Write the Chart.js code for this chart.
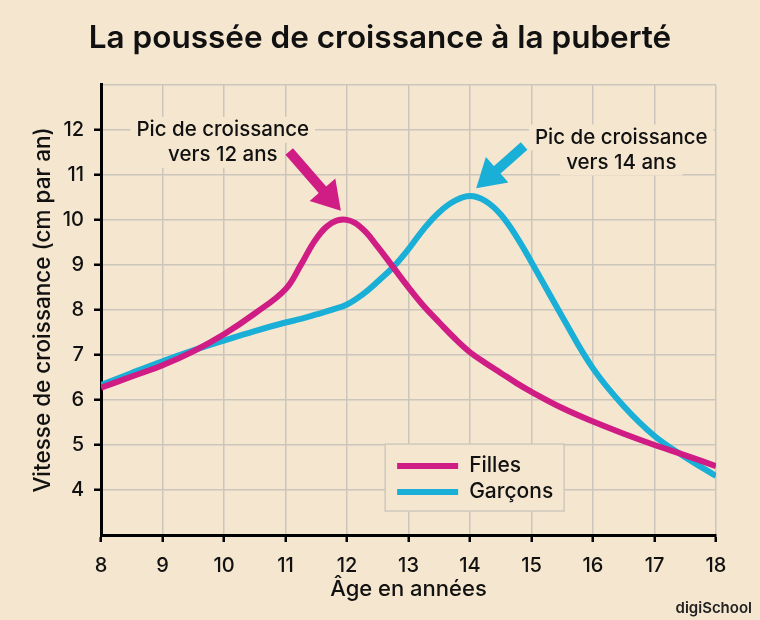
<!DOCTYPE html>
<html>
<head>
<meta charset="utf-8">
<script src="https://cdn.jsdelivr.net/npm/chart.js@4.4.0/dist/chart.umd.min.js"></script>
<style>
  html, body { margin: 0; padding: 0; background: #f5e6cf; }
  #wrap { width: 760px; height: 620px; position: relative; }
</style>
</head>
<body>
<div id="wrap"><canvas id="chart"></canvas></div>
<script>
// ages in years (finer steps around the two peaks)
const ages = [8, 8.5, 9, 9.5, 10, 10.5, 11, 11.25, 11.5, 11.75, 12, 12.25, 12.5, 12.75, 13, 13.25, 13.5, 13.75,
              14, 14.25, 14.5, 14.75, 15, 15.5, 16, 16.5, 17, 17.5, 18];
// growth speed, cm per year
const filles  = [6.27, 6.52, 6.77, 7.08, 7.46, 7.92, 8.46, 9.0, 9.58, 9.93, 10.0, 9.8, 9.4, 8.95, 8.5, 8.08, 7.72, 7.37,
                 7.06, 6.82, 6.6, 6.38, 6.18, 5.82, 5.52, 5.25, 5.0, 4.77, 4.53];
const garcons = [6.33, 6.6, 6.86, 7.1, 7.32, 7.53, 7.72, 7.8, 7.9, 8.0, 8.12, 8.34, 8.63, 8.95, 9.35, 9.8, 10.17, 10.42,
                 10.53, 10.42, 10.12, 9.64, 9.06, 7.85, 6.7, 5.86, 5.2, 4.73, 4.31];
const yTicks = [4, 5, 6, 7, 8, 9, 10, 11, 12];

const PINK = '#cf1d85';
const BLUE = '#19afd6';
const BG = '#f5e6cf';
const FONT = 'Inter, "Open Sans", sans-serif';

// callouts: text position and arrow tail/tip, in data units
const notes = [
  { lines: ['Pic de croissance', 'vers 12 ans'], x: 9.98, y: 12.0, color: PINK, tail: [11.06, 11.52], tip: [11.9, 10.2] },
  { lines: ['Pic de croissance', 'vers 14 ans'], x: 16.46, y: 11.83, color: BLUE, tail: [14.88, 11.64], tip: [14.1, 10.7] }
];

function toPoints(xs, ys) {
  return xs.map((x, i) => ({ x: x, y: ys[i] }));
}

const calloutPlugin = {
  id: 'callouts',
  afterDatasetsDraw(chart) {
    const ctx = chart.ctx;
    const xs = chart.scales.x, ys = chart.scales.y;
    ctx.save();
    ctx.font = '500 20.5px ' + FONT;
    ctx.textAlign = 'center';
    ctx.textBaseline = 'middle';
    notes.forEach(n => {
      const cx = xs.getPixelForValue(n.x);
      const cy = ys.getPixelForValue(n.y);
      n.lines.forEach((t, i) => {
        const w = ctx.measureText(t).width;
        const ly = cy + i * 25;
        ctx.fillStyle = BG;
        ctx.fillRect(cx - w / 2 - 6, ly - 13, w + 12, 26);
      });
      ctx.fillStyle = '#111';
      n.lines.forEach((t, i) => ctx.fillText(t, cx, cy + i * 25));

      // arrow
      const x0 = xs.getPixelForValue(n.tail[0]), y0 = ys.getPixelForValue(n.tail[1]);
      const x1 = xs.getPixelForValue(n.tip[0]), y1 = ys.getPixelForValue(n.tip[1]);
      const ang = Math.atan2(y1 - y0, x1 - x0);
      const headLen = 28, headW = 17;
      const bx = x1 - headLen * Math.cos(ang), by = y1 - headLen * Math.sin(ang);
      ctx.strokeStyle = n.color;
      ctx.lineWidth = 10;
      ctx.lineCap = 'butt';
      ctx.beginPath();
      ctx.moveTo(x0, y0);
      ctx.lineTo(bx + 2 * Math.cos(ang), by + 2 * Math.sin(ang));
      ctx.stroke();
      ctx.fillStyle = n.color;
      ctx.beginPath();
      ctx.moveTo(x1, y1);
      ctx.lineTo(bx + headW * Math.sin(ang), by - headW * Math.cos(ang));
      ctx.lineTo(bx - headW * Math.sin(ang), by + headW * Math.cos(ang));
      ctx.closePath();
      ctx.fill();
    });

    // legend box inside the plot
    const lx = xs.getPixelForValue(12.62), ly = ys.getPixelForValue(5.02);
    const lw = 179, lh = 67;
    ctx.fillStyle = BG;
    ctx.fillRect(lx, ly, lw, lh);
    ctx.strokeStyle = '#cfc8bd';
    ctx.lineWidth = 1.5;
    ctx.strokeRect(lx, ly, lw, lh);
    chart.data.datasets.forEach((ds, i) => {
      const rowY = ly + 22 + i * 26;
      ctx.strokeStyle = ds.borderColor;
      ctx.lineWidth = 6;
      ctx.beginPath();
      ctx.moveTo(lx + 12, rowY);
      ctx.lineTo(lx + 73, rowY);
      ctx.stroke();
      ctx.fillStyle = '#111';
      ctx.font = '500 21px ' + FONT;
      ctx.textAlign = 'left';
      ctx.fillText(ds.label, lx + 84, rowY);
    });

    // logo text
    ctx.font = '600 15px ' + FONT;
    ctx.textAlign = 'right';
    ctx.fillStyle = '#222';
    ctx.fillText('digiSchool', 752, 608);
    ctx.restore();
  }
};

const ctx = document.getElementById('chart').getContext('2d');
const chart = new Chart(ctx, {
  type: 'line',
  data: {
    datasets: [{
      label: 'Filles',
      data: toPoints(ages, filles),
      borderColor: PINK,
      borderWidth: 6,
      pointRadius: 0,
      tension: 0.4,
      fill: false
    }, {
      label: 'Garçons',
      data: toPoints(ages, garcons),
      borderColor: BLUE,
      borderWidth: 6,
      pointRadius: 0,
      tension: 0.4,
      fill: false
    }]
  },
  options: {
    responsive: true,
    maintainAspectRatio: false,
    animation: false,
    layout: { padding: 0 },
    plugins: {
      legend: { display: false },
      tooltip: { enabled: false },
      title: {
        display: true,
        text: 'La poussée de croissance à la puberté',
        color: '#111',
        font: { family: FONT, size: 31.5, weight: '600' },
        padding: { top: 20, bottom: 27 }
      }
    },
    scales: {
      x: {
        type: 'linear',
        min: 8,
        max: 18,
        ticks: { stepSize: 1, color: '#111', font: { family: FONT, size: 20, weight: '500' }, padding: 12, maxRotation: 0 },
        grid: { color: '#cbc5bb', lineWidth: 1.5, tickColor: '#000', tickLength: 7, tickWidth: 2.5 },
        border: { color: '#000', width: 3 },
        title: { display: true, text: 'Âge en années', color: '#111', font: { family: FONT, size: 22, weight: '500' }, padding: { top: 0, bottom: 17 } },
        afterFit: s => { s.height = 85; }
      },
      y: {
        min: 3,
        max: 13,
        ticks: {
          stepSize: 1,
          color: '#111',
          font: { family: FONT, size: 20, weight: '500' },
          padding: 10,
          callback: v => yTicks.includes(v) ? String(v) : ''
        },
        grid: {
          color: '#cbc5bb',
          lineWidth: 1.5,
          tickLength: 7,
          tickWidth: 2.5,
          tickColor: c => (c.tick && yTicks.includes(c.tick.value)) ? '#000' : 'rgba(0,0,0,0)'
        },
        border: { color: '#000', width: 3 },
        title: { display: true, text: 'Vitesse de croissance (cm par an)', color: '#111', font: { family: FONT, size: 22.5, weight: '500' }, padding: { top: 30, bottom: 0 } },
        afterFit: s => { s.width = 101; }
      },
      // empty right-hand axis that only reserves the right margin
      yRight: {
        position: 'right',
        min: 3,
        max: 13,
        ticks: { display: false },
        grid: { display: false, drawTicks: false },
        border: { display: false },
        afterFit: s => { s.width = 44; }
      }
    }
  },
  plugins: [calloutPlugin]
});
</script>
</body>
</html>
